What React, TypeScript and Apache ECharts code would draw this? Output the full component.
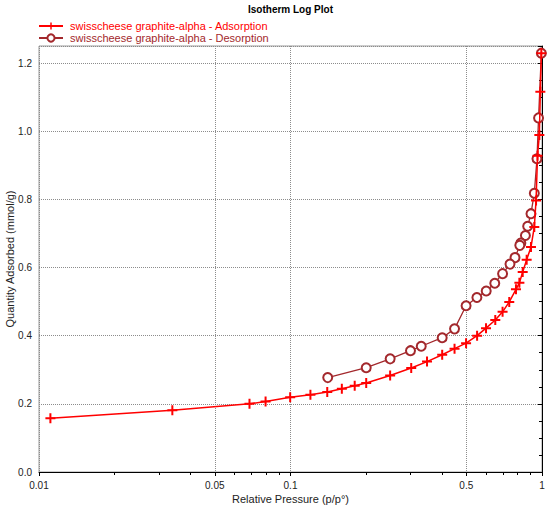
import React, { useEffect, useRef } from "react";
import * as echarts from "echarts";

const TITLE = "Isotherm Log Plot";
const ADS_NAME = "swisscheese graphite-alpha - Adsorption";
const DES_NAME = "swisscheese graphite-alpha - Desorption";
const X_NAME = "Relative Pressure (p/p°)";
const Y_NAME = "Quantity Adsorbed (mmol/g)";

const adsP = [
  0.0111, 0.0339, 0.0687, 0.0796, 0.0997, 0.12, 0.14, 0.16, 0.18, 0.2, 0.249,
  0.302, 0.349, 0.401, 0.449, 0.499, 0.552, 0.599, 0.652, 0.697, 0.741, 0.788,
  0.813, 0.838, 0.869, 0.904, 0.932, 0.947, 0.96, 0.976, 0.985, 0.994,
];
const adsQ = [
  0.158, 0.181, 0.2, 0.207, 0.219, 0.227, 0.2345, 0.244, 0.253, 0.261, 0.283,
  0.305, 0.324, 0.344, 0.362, 0.378, 0.4, 0.422, 0.446, 0.47, 0.499, 0.536,
  0.555, 0.587, 0.623, 0.66, 0.719, 0.797, 0.928, 0.989, 1.116, 1.229,
];

const desP = [
  0.994, 0.969, 0.955, 0.932, 0.904, 0.877, 0.859, 0.824, 0.816, 0.781, 0.746,
  0.697, 0.649, 0.6, 0.551, 0.499, 0.449, 0.401, 0.331, 0.3, 0.249, 0.2, 0.1406,
];
const desQ = [
  1.229, 1.039, 0.919, 0.818, 0.758, 0.721, 0.694, 0.672, 0.665, 0.629, 0.61,
  0.582, 0.554, 0.531, 0.512, 0.488, 0.42, 0.394, 0.369, 0.356, 0.332, 0.306,
  0.277,
];

const xMajorTicks = [0.01, 0.05, 0.1, 0.5, 1];
const xMinorTicks = [
  0.02, 0.03, 0.04, 0.06, 0.07, 0.08, 0.09, 0.2, 0.3, 0.4, 0.6, 0.7, 0.8, 0.9,
];

const ADS_COLOR = "#ff0000";
const DES_COLOR = "#a3282c";
const FONT = "Liberation Sans, Arial, sans-serif";
const PLUS = "path://M4,0H6V4H10V6H6V10H4V6H0V4H4Z";

const lg = (p: number) => Math.log10(p);

export default function App() {
  const ref = useRef<HTMLDivElement>(null);
  useEffect(() => {
    if (!ref.current) return;
    const chart = echarts.init(ref.current, null, { renderer: "svg" });
    const fmtX = (v: number) => {
      const p = Math.pow(10, v);
      return String(Math.round(p * 1000) / 1000);
    };
    const gridLine = { show: true, lineStyle: { color: "#8c8c8c", type: "dotted", width: 1 } };
    chart.setOption({
      animation: false,
      backgroundColor: "#ffffff",
      textStyle: { fontFamily: FONT },
      title: {
        text: TITLE,
        left: 248,
        top: 4,
        padding: 0,
        textStyle: { fontSize: 10, fontWeight: "bold", color: "#000", fontFamily: FONT },
      },
      legend: {
        orient: "vertical",
        left: 38,
        top: 20,
        padding: 0,
        itemWidth: 24,
        itemHeight: 9,
        itemGap: 0,
        textStyle: { fontSize: 11, lineHeight: 12, fontFamily: FONT, padding: [0, 0, 0, 2] },
        data: [
          { name: ADS_NAME, textStyle: { color: ADS_COLOR } },
          { name: DES_NAME, textStyle: { color: DES_COLOR } },
        ],
      },
      grid: {
        left: 39,
        right: 8,
        top: 46,
        bottom: 34,
        show: true,
        borderColor: "#9a9a9a",
        borderWidth: 1,
        containLabel: false,
        outerBoundsMode: "none",
      },
      xAxis: [
        {
          type: "value",
          min: -2,
          max: 0,
          name: X_NAME,
          nameLocation: "middle",
          nameGap: 21,
          nameMoveOverlap: false,
          nameTextStyle: { fontSize: 11, color: "#222", fontFamily: FONT },
          axisLine: { show: true, lineStyle: { color: "#000", width: 1 } },
          axisTick: {
            show: true,
            inside: false,
            length: 4,
            customValues: xMajorTicks.map(lg),
            lineStyle: { color: "#000" },
          },
          axisLabel: {
            customValues: xMajorTicks.map(lg),
            formatter: fmtX,
            fontSize: 10,
            color: "#222",
            margin: 8,
            fontFamily: FONT,
          },
          splitLine: gridLine,
        },
        {
          type: "value",
          min: -2,
          max: 0,
          position: "bottom",
          axisLine: { show: false },
          axisTick: {
            show: true,
            inside: false,
            length: 3,
            customValues: xMinorTicks.map(lg),
            lineStyle: { color: "#000" },
          },
          axisLabel: { show: false },
          splitLine: { show: false },
        },
      ],
      yAxis: [
        {
          type: "value",
          min: 0,
          max: 1.25,
          interval: 0.2,
          name: Y_NAME,
          nameLocation: "middle",
          nameGap: 24,
          nameMoveOverlap: false,
          nameTextStyle: { fontSize: 11, color: "#222", fontFamily: FONT },
          axisLine: { show: true, lineStyle: { color: "#000", width: 1 } },
          axisTick: { show: true, length: 4, lineStyle: { color: "#000" } },
          axisLabel: {
            formatter: (v: number) => (v > 1.21 ? "" : v.toFixed(1)),
            fontSize: 10,
            color: "#222",
            margin: 7,
            fontFamily: FONT,
          },
          splitLine: gridLine,
        },
        {
          type: "value",
          min: 0,
          max: 1.25,
          interval: 0.05,
          position: "left",
          offset: 0,
          axisLine: { show: false },
          axisTick: { show: true, length: 3, lineStyle: { color: "#000" } },
          axisLabel: { show: false },
          splitLine: { show: false },
        },
      ],
      series: [
        {
          name: ADS_NAME,
          type: "line",
          xAxisIndex: 0,
          yAxisIndex: 0,
          data: adsP.map((p, i) => [lg(p), adsQ[i]]),
          symbol: PLUS,
          symbolSize: 10,
          showAllSymbol: true,
          color: ADS_COLOR,
          itemStyle: { color: ADS_COLOR },
          lineStyle: { color: ADS_COLOR, width: 1.5 },
          z: 3,
        },
        {
          name: DES_NAME,
          type: "line",
          xAxisIndex: 0,
          yAxisIndex: 0,
          data: desP.map((p, i) => [lg(p), desQ[i]]),
          symbol: "emptyCircle",
          symbolSize: 9,
          showAllSymbol: true,
          color: DES_COLOR,
          itemStyle: { color: DES_COLOR, borderColor: DES_COLOR, borderWidth: 1.2 },
          lineStyle: { color: DES_COLOR, width: 1.3 },
          z: 2,
        },
      ],
    });
    return () => chart.dispose();
  }, []);
  return (
    <div
      ref={ref}
      style={{ position: "fixed", left: 0, top: 0, width: 550, height: 506, background: "#fff" }}
    />
  );
}
